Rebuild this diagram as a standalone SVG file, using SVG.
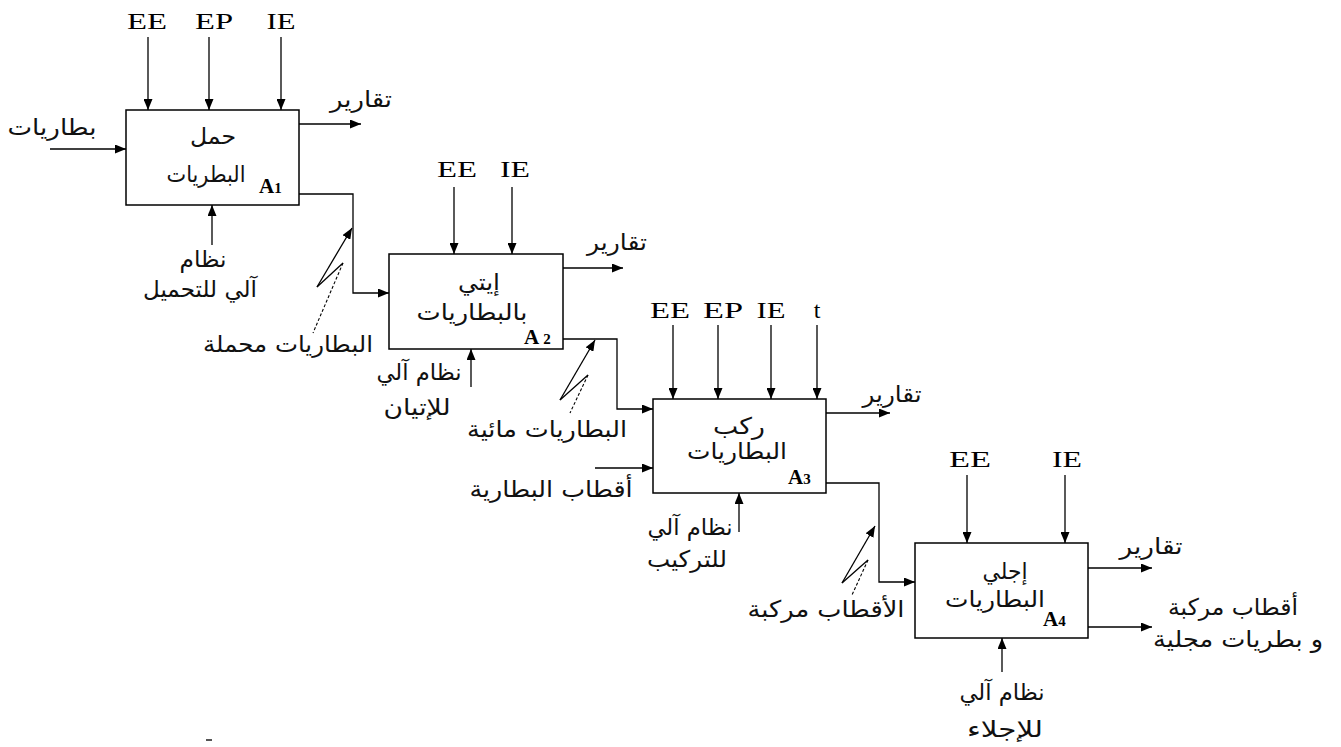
<svg xmlns="http://www.w3.org/2000/svg" width="1341" height="747" viewBox="0 0 1341 747">
<defs>
<marker id="ah" markerUnits="userSpaceOnUse" markerWidth="11" markerHeight="9" refX="11" refY="4.5" orient="auto"><path d="M0,0 L11,4.5 L0,9 z" fill="#000"/></marker>
<style>
.box{fill:#fff;stroke:#000;stroke-width:1.5}
.ln{fill:none;stroke:#000;stroke-width:1.3}
.ar{fill:none;stroke:#000;stroke-width:1.3;marker-end:url(#ah)}
.ds{fill:none;stroke:#000;stroke-width:1.1;stroke-dasharray:3,2}
.lat{font-family:"Liberation Serif","Times New Roman",serif;font-size:24px;fill:#000;text-anchor:middle}
.ar-t{font-family:"DejaVu Sans","Noto Sans",sans-serif;font-size:23px;fill:#111;text-anchor:middle}
.id{font-family:"Liberation Serif","Times New Roman",serif;font-size:21px;font-weight:bold;fill:#000}
</style>
</defs>
<rect width="1341" height="747" fill="#fff"/>

<g id="connectors">
<!-- A1 -->
<line class="ar" x1="148" y1="37" x2="148" y2="110"/>
<line class="ar" x1="209" y1="37" x2="209" y2="110"/>
<line class="ar" x1="281" y1="37" x2="281" y2="110"/>
<line class="ar" x1="50" y1="149" x2="126" y2="149"/>
<line class="ar" x1="299" y1="124" x2="361" y2="124"/>
<line class="ar" x1="212" y1="245" x2="212" y2="205"/>
<polyline class="ar" points="299,194 353,194 353,293 389,293"/>
<line class="ar" x1="317" y1="287" x2="352" y2="228"/>
<line class="ln" x1="317" y1="287" x2="343" y2="263"/>
<line class="ds" x1="343" y1="263" x2="313" y2="333"/>
<!-- A2 -->
<line class="ar" x1="454" y1="187" x2="454" y2="254"/>
<line class="ar" x1="512" y1="187" x2="512" y2="254"/>
<line class="ar" x1="563" y1="268" x2="623" y2="268"/>
<line class="ar" x1="471" y1="387" x2="471" y2="349"/>
<polyline class="ar" points="563,339 617,339 617,409 653,409"/>
<line class="ar" x1="560" y1="400" x2="595" y2="340"/>
<line class="ln" x1="560" y1="400" x2="588" y2="375"/>
<line class="ds" x1="588" y1="375" x2="570" y2="413"/>
<!-- A3 -->
<line class="ar" x1="673" y1="325" x2="673" y2="399"/>
<line class="ar" x1="718" y1="325" x2="718" y2="399"/>
<line class="ar" x1="771" y1="325" x2="771" y2="399"/>
<line class="ar" x1="817" y1="325" x2="817" y2="399"/>
<line class="ar" x1="595" y1="468" x2="653" y2="468"/>
<line class="ar" x1="826" y1="413" x2="890" y2="413"/>
<line class="ar" x1="739" y1="532" x2="739" y2="493"/>
<polyline class="ar" points="826,483 879,483 879,582 915,582"/>
<line class="ar" x1="842" y1="583" x2="875" y2="526"/>
<line class="ln" x1="842" y1="583" x2="868" y2="560"/>
<line class="ds" x1="868" y1="560" x2="852" y2="595"/>
<!-- A4 -->
<line class="ar" x1="967" y1="475" x2="967" y2="543"/>
<line class="ar" x1="1065" y1="475" x2="1065" y2="543"/>
<line class="ar" x1="1088" y1="568" x2="1152" y2="568"/>
<line class="ar" x1="1088" y1="627" x2="1152" y2="627"/>
<line class="ar" x1="1002" y1="672" x2="1002" y2="638"/>
</g>

<g id="A1">
<rect class="box" x="126" y="110" width="173" height="95"/>
<text class="ar-t" x="213" y="144" textLength="46" lengthAdjust="spacingAndGlyphs">حمل</text>
<text class="ar-t" x="206" y="182" textLength="79" lengthAdjust="spacingAndGlyphs">البطريات</text>
<text class="id" x="259" y="193">A<tspan font-size="15">1</tspan></text>
</g>
<g id="A2">
<rect class="box" x="389" y="254" width="174" height="95"/>
<text class="ar-t" x="479" y="290" textLength="42" lengthAdjust="spacingAndGlyphs">إيتي</text>
<text class="ar-t" x="472" y="320" textLength="111" lengthAdjust="spacingAndGlyphs">بالبطاريات</text>
<text class="id" x="524" y="344">A <tspan font-size="15">2</tspan></text>
</g>
<g id="A3">
<rect class="box" x="653" y="399" width="173" height="94"/>
<text class="ar-t" x="739" y="434" textLength="52" lengthAdjust="spacingAndGlyphs">ركب</text>
<text class="ar-t" x="737" y="459" textLength="100" lengthAdjust="spacingAndGlyphs">البطاريات</text>
<text class="id" x="788" y="484">A<tspan font-size="15">3</tspan></text>
</g>
<g id="A4">
<rect class="box" x="915" y="543" width="173" height="95"/>
<text class="ar-t" x="1005" y="579" textLength="45" lengthAdjust="spacingAndGlyphs">إجلي</text>
<text class="ar-t" x="995" y="607" textLength="100" lengthAdjust="spacingAndGlyphs">البطاريات</text>
<text class="id" x="1043" y="626">A<tspan font-size="15">4</tspan></text>
</g>

<g id="labels">
<text class="lat" x="147" y="29" textLength="40" lengthAdjust="spacingAndGlyphs">EE</text>
<text class="lat" x="214" y="29" textLength="38" lengthAdjust="spacingAndGlyphs">EP</text>
<text class="lat" x="281" y="29" textLength="29" lengthAdjust="spacingAndGlyphs">IE</text>
<text class="lat" x="457" y="177" textLength="40" lengthAdjust="spacingAndGlyphs">EE</text>
<text class="lat" x="515" y="177" textLength="30" lengthAdjust="spacingAndGlyphs">IE</text>
<text class="lat" x="670" y="318" textLength="40" lengthAdjust="spacingAndGlyphs">EE</text>
<text class="lat" x="723" y="318" textLength="40" lengthAdjust="spacingAndGlyphs">EP</text>
<text class="lat" x="771" y="318" textLength="29" lengthAdjust="spacingAndGlyphs">IE</text>
<text class="lat" x="817" y="318">t</text>
<text class="lat" x="970" y="467" textLength="42" lengthAdjust="spacingAndGlyphs">EE</text>
<text class="lat" x="1067" y="467" textLength="30" lengthAdjust="spacingAndGlyphs">IE</text>

<text class="ar-t" x="52" y="135" textLength="89" lengthAdjust="spacingAndGlyphs">بطاريات</text>
<text class="ar-t" x="361" y="107" textLength="62" lengthAdjust="spacingAndGlyphs">تقارير</text>
<text class="ar-t" x="203" y="267" textLength="47" lengthAdjust="spacingAndGlyphs">نظام</text>
<text class="ar-t" x="200" y="297" textLength="114" lengthAdjust="spacingAndGlyphs">آلي للتحميل</text>
<text class="ar-t" x="288" y="352" textLength="170" lengthAdjust="spacingAndGlyphs">البطاريات محملة</text>

<text class="ar-t" x="617" y="250" textLength="60" lengthAdjust="spacingAndGlyphs">تقارير</text>
<text class="ar-t" x="419" y="380" textLength="85" lengthAdjust="spacingAndGlyphs">نظام آلي</text>
<text class="ar-t" x="417" y="415" textLength="67" lengthAdjust="spacingAndGlyphs">للإتيان</text>
<text class="ar-t" x="547" y="437" textLength="160" lengthAdjust="spacingAndGlyphs">البطاريات مائية</text>
<text class="ar-t" x="551" y="497" textLength="163" lengthAdjust="spacingAndGlyphs">أقطاب البطارية</text>

<text class="ar-t" x="892" y="402" textLength="59" lengthAdjust="spacingAndGlyphs">تقارير</text>
<text class="ar-t" x="690" y="535" textLength="85" lengthAdjust="spacingAndGlyphs">نظام آلي</text>
<text class="ar-t" x="687" y="567" textLength="80" lengthAdjust="spacingAndGlyphs">للتركيب</text>
<text class="ar-t" x="826" y="617" textLength="157" lengthAdjust="spacingAndGlyphs">الأقطاب مركبة</text>

<text class="ar-t" x="1151" y="554" textLength="63" lengthAdjust="spacingAndGlyphs">تقارير</text>
<text class="ar-t" x="1233" y="615" textLength="130" lengthAdjust="spacingAndGlyphs">أقطاب مركبة</text>
<text class="ar-t" x="1238" y="647" textLength="170" lengthAdjust="spacingAndGlyphs">و بطريات مجلية</text>
<text class="ar-t" x="1002" y="700" textLength="85" lengthAdjust="spacingAndGlyphs">نظام آلي</text>
<text class="ar-t" x="1005" y="737" textLength="76" lengthAdjust="spacingAndGlyphs">للإجلاء</text>
</g>
<line x1="206" y1="740" x2="212" y2="740" stroke="#555" stroke-width="2"/>
</svg>
